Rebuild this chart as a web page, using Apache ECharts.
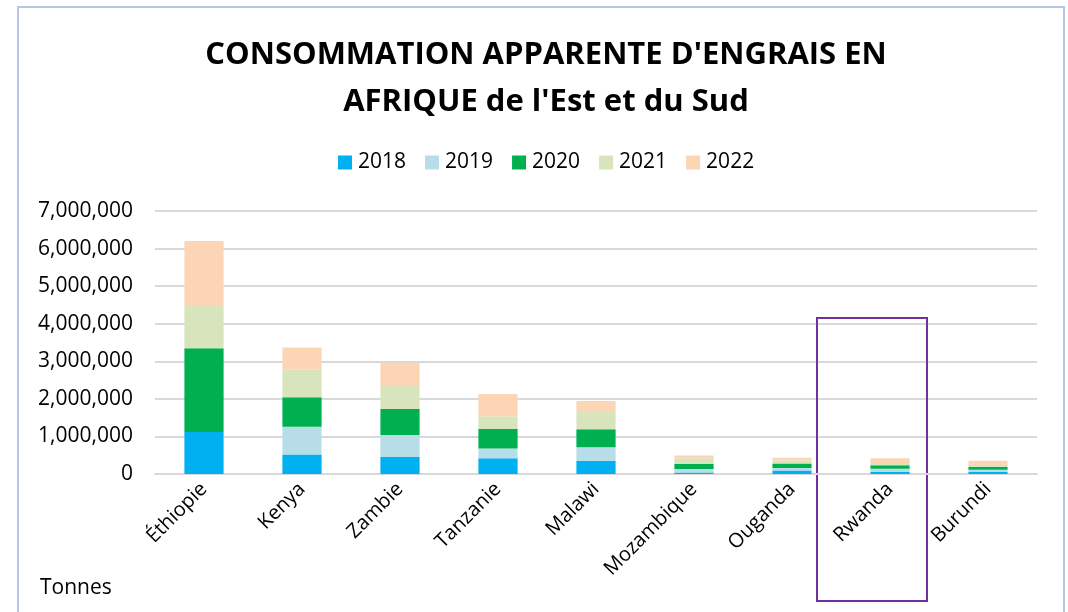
<!DOCTYPE html>
<html><head><meta charset="utf-8">
<script src="https://cdn.jsdelivr.net/npm/echarts@6/dist/echarts.min.js"></script>
<style>html,body{margin:0;padding:0;background:#fff}#c{width:1068px;height:612px}
#frame{position:absolute;left:17px;top:6px;width:1048px;height:620px;border:2px solid #b4c7e7;box-sizing:border-box;pointer-events:none}</style>
</head><body><div id="c"></div><div id="frame"></div>
<script>
const categories = ['Éthiopie','Kenya','Zambie','Tanzanie','Malawi','Mozambique','Ouganda','Rwanda','Burundi'];
const years = ['2018','2019','2020','2021','2022'];
const v2018 = [1120000, 520000, 450000, 420000, 350000, 40000, 90000, 50000, 50000];
const v2019 = [0, 740000, 590000, 260000, 360000, 90000, 70000, 90000, 60000];
const v2020 = [2230000, 780000, 690000, 520000, 480000, 140000, 120000, 90000, 80000];
const v2021 = [1150000, 750000, 610000, 340000, 490000, 140000, 80000, 60000, 50000];
const v2022 = [1700000, 580000, 620000, 590000, 260000, 80000, 70000, 130000, 110000];
const yTicks = [0, 1000000, 2000000, 3000000, 4000000, 5000000, 6000000, 7000000];
const colors = ['#00b0f0', '#b7dde8', '#00b050', '#d8e4bc', '#fcd5b4'];
const highlightCategory = 'Rwanda';
const highlightTop = 4150000;

const font = 'Open Sans';
const chart = echarts.init(document.getElementById('c'));
const values = [v2018, v2019, v2020, v2021, v2022];
chart.setOption({
  animation: false,
  color: colors,
  title: {
    text: "CONSOMMATION APPARENTE D'ENGRAIS EN\nAFRIQUE de l'Est et du Sud",
    left: 541, top: 27, textAlign: 'center',
    textStyle: {fontFamily: font, fontSize: 31, fontWeight: 'bold', color: '#000', lineHeight: 47}
  },
  legend: {
    top: 147, left: 333, itemWidth: 14, itemHeight: 14, itemGap: 19,
    icon: 'rect',
    textStyle: {fontFamily: font, fontSize: 21, color: '#000', padding: [0, 0, 0, 1]},
    data: years
  },
  grid: {left: 155, right: 31, top: 211, bottom: 138},
  xAxis: {
    type: 'category', data: categories,
    axisLine: {lineStyle: {color: '#d9d9d9', width: 2}},
    axisTick: {show: false},
    axisLabel: {rotate: 45, fontFamily: font, fontSize: 20, color: '#000', margin: 12, interval: 0}
  },
  yAxis: {
    type: 'value', min: 0, max: 7000000, interval: 1000000,
    axisLine: {show: false}, axisTick: {show: false},
    splitLine: {lineStyle: {color: '#d9d9d9', width: 2}},
    axisLabel: {fontFamily: font, fontSize: 21, color: '#000', margin: 22,
      formatter: v => yTicks.includes(v) ? v.toLocaleString('en-US') : ''}
  },
  series: years.map((y, i) => ({
    name: y, type: 'bar', stack: 'total', barWidth: '40%',
    data: values[i]
  }))
});
const cx = chart.convertToPixel({xAxisIndex: 0}, highlightCategory);
const ty = chart.convertToPixel({yAxisIndex: 0}, highlightTop);
chart.setOption({
  graphic: [
    {type: 'rect', shape: {x: cx - 73, y: ty, width: 110, height: 601 - ty},
     style: {fill: 'none', stroke: '#7030a0', lineWidth: 2}},
    {type: 'text', left: 40, top: 578, style: {text: 'Tonnes', fontFamily: font, fontSize: 21, fill: '#000'}}
  ]
});
</script></body></html>
